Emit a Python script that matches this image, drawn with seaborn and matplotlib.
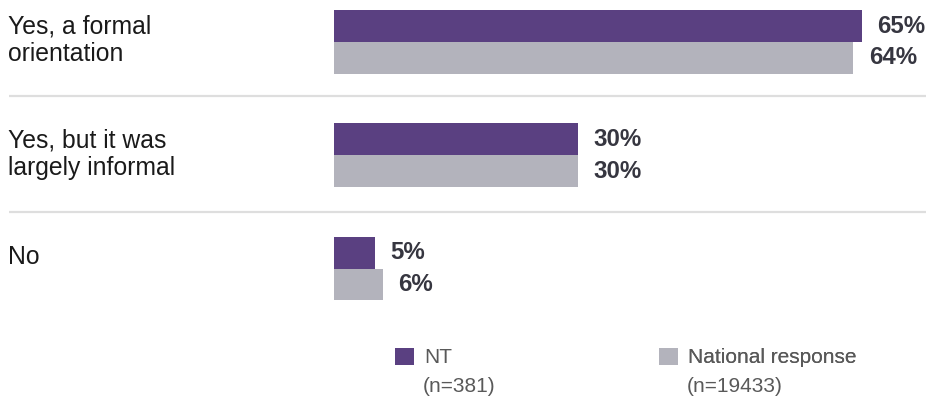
import matplotlib
matplotlib.use("Agg")
import matplotlib.pyplot as plt
import matplotlib.transforms as mtransforms
import seaborn as sns
import pandas as pd

# Survey responses: did the respondent receive an orientation?
categories = ["Yes, a formal\norientation", "Yes, but it was\nlargely informal", "No"]
nt_values = [65, 30, 5]
national_values = [64, 30, 6]
series_names = ["NT", "National response"]
sample_sizes = ["(n=381)", "(n=19433)"]

PURPLE = "#58358C"
GREY = "#B2B1BD"

sns.set_theme(style="white")
plt.rcParams["font.family"] = ["Liberation Sans", "DejaVu Sans"]

df = pd.DataFrame({
    "category": categories * 2,
    "value": nt_values + national_values,
    "group": [series_names[0]] * 3 + [series_names[1]] * 3,
})

W, H = 926, 399
fig = plt.figure(figsize=(W / 100, H / 100), dpi=100)
ax = fig.add_axes([0, 0, 1, 1])

sns.barplot(
    data=df, y="category", x="value", hue="group", orient="h",
    order=categories, hue_order=series_names,
    palette=[PURPLE, GREY], width=0.565, linewidth=0,
    legend=False, ax=ax,
)

# pixel-based frame: zero at x=334.4, 8.11 px per percent; group spacing 113.25 px
x0, xs = 334.4, 8.11
y0, ys = 42.0, 113.25
ax.set_xlim(-x0 / xs, (W - x0) / xs)
ax.set_ylim((H - y0) / ys, -y0 / ys)
ax.axis("off")

# value labels
for cont in ax.containers:
    ax.bar_label(
        cont, labels=[f"{v:.0f}%" for v in cont.datavalues],
        padding=11, fontsize=17.3, fontweight="bold", color="#363640",
    )

# category labels on the left
trans = mtransforms.blended_transform_factory(ax.transAxes, ax.transData)
label_centres_px = [40, 154, 257]
for text, py in zip(categories, label_centres_px):
    ax.text(8 / W, (py - y0) / ys, text, transform=trans, ha="left", va="center",
            fontsize=17.8, color="#1a1a1a", linespacing=1.2)

# separator rules between groups
for py in (96, 212):
    ax.plot([9 / W, 1], [(py - y0) / ys] * 2, transform=trans,
            color="#DEDEDE", lw=1.6, solid_capstyle="butt")

# legend: one entry per column, sample size written beneath each name
handles = [ax.containers[0].patches[0], ax.containers[1].patches[0]]
anchors_px = [395, 659]
for h, name, n_text, px in zip(handles, series_names, sample_sizes, anchors_px):
    leg = ax.legend(
        [h], [name], loc="center left",
        bbox_to_anchor=(px / W, 1 - 357.5 / H), bbox_transform=fig.transFigure,
        frameon=False, fontsize=15, handlelength=0.91, handleheight=0.91,
        handletextpad=0.48, borderpad=0, borderaxespad=0,
    )
    for t in leg.get_texts():
        t.set_color("#595959")
    ax.add_artist(leg)
    fig.text((px + 28) / W, 1 - 386 / H, n_text, ha="left", va="center",
             fontsize=15, color="#595959")

fig.savefig("out.png", dpi=100)
